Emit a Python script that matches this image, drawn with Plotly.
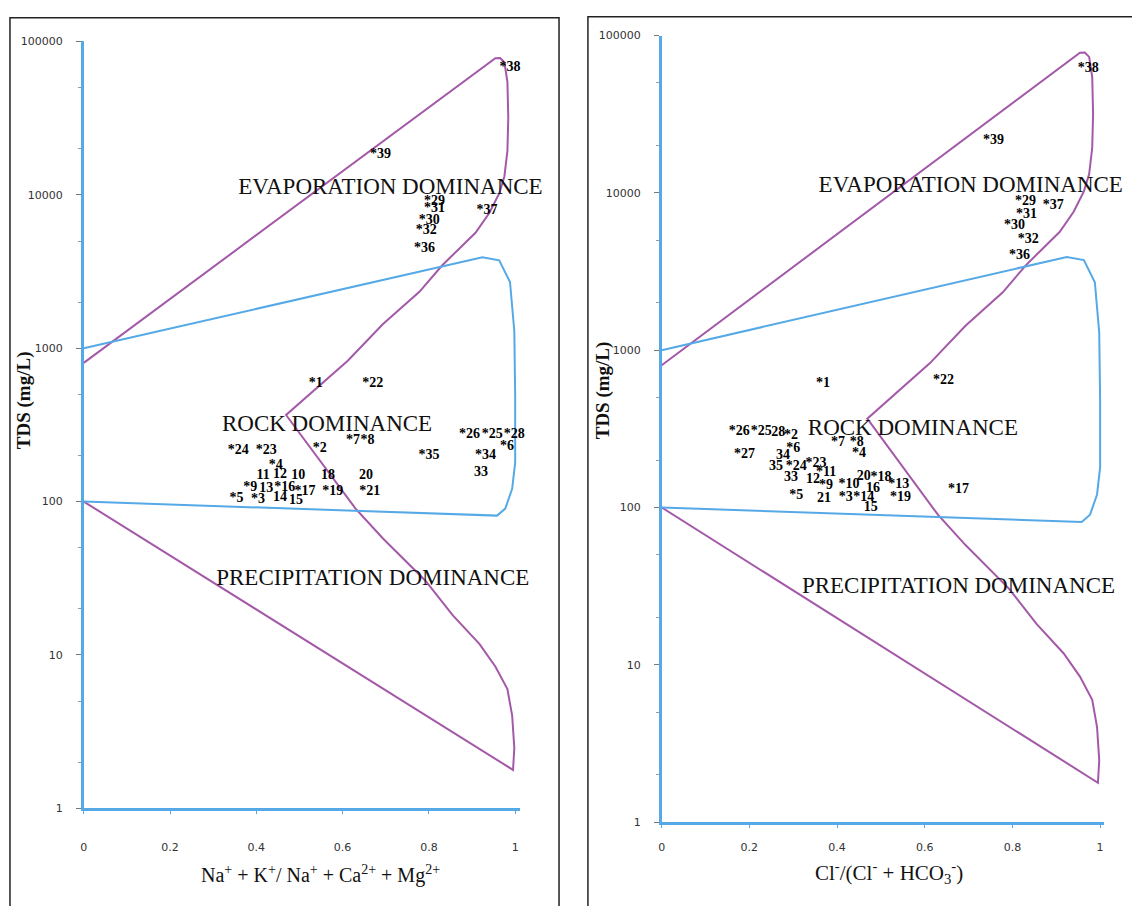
import plotly.graph_objects as go

# ---------------- data ----------------
# Gibbs boundary curves (ratio, TDS mg/L)
purple_ratio = [0.0, 0.954, 0.965, 0.975, 0.982, 0.984, 0.982, 0.975, 0.963, 0.94, 0.908, 0.878,
                0.831, 0.778, 0.693, 0.612, 0.469, 0.630, 0.693, 0.792, 0.855, 0.917, 0.954,
                0.982, 0.993, 0.998, 0.995, 0.0]
purple_tds = [803, 77800, 78000, 73200, 54500, 32000, 19350, 13180, 10230, 7620, 5660, 4680,
              3475, 2333, 1431, 828, 367, 90, 57.7, 30.5, 18.2, 11.8, 8.42,
              6.0, 4.02, 2.47, 1.78, 100]
blue_ratio = [0.0, 0.924, 0.963, 0.988, 0.998, 1.0, 1.0, 0.993, 0.977, 0.958, 0.0]
blue_tds = [1000, 3916, 3742, 2704, 1291, 479, 180, 121, 90, 81, 100]

# left panel: Na+ + K+ / (Na+ + Ca2+ + Mg2+)
left_labels = ["*1", "*22", "*26", "*25", "*28", "*6", "*27", "*34", "*35", "33", "*24", "*23", "*2",
               "*7", "*8", "*4", "11", "12", "10", "18", "20", "*9", "13", "*16", "*17", "*19", "*21",
               "*5", "*3", "14", "15", "*38", "*39", "*29", "*31", "*30", "*32", "*36", "*37"]
left_ratio = [0.538, 0.670, 0.894, 0.947, 0.998, 0.981, 1.011, 0.931, 0.800, 0.921, 0.358, 0.423, 0.547,
              0.624, 0.658, 0.445, 0.416, 0.455, 0.497, 0.566, 0.654, 0.386, 0.423, 0.466, 0.513, 0.577, 0.663,
              0.354, 0.404, 0.455, 0.492, 0.988, 0.688, 0.813, 0.813, 0.801, 0.794, 0.790, 0.935]
left_tds = [589, 589, 273, 273, 273, 228, 200, 200, 200, 155, 215, 215, 222,
            252, 252, 172, 147, 150, 147, 147, 147, 124, 121, 124, 116, 116, 117,
            104, 103, 107, 101, 68000, 18200, 9100, 8200, 6770, 5840, 4470, 7950]

# right panel: Cl- / (Cl- + HCO3-)
right_labels = ["*26", "*25", "28", "*2", "*6", "*7", "*8", "*4", "*27", "34", "35", "*24", "*23", "33",
                "*11", "12", "*9", "*10", "20", "*18", "16", "*13", "*17", "*5", "21", "*3", "*14", "15",
                "*19", "*1", "*22", "*38", "*39", "*29", "*37", "*31", "*30", "*32", "*36"]
right_ratio = [0.177, 0.227, 0.266, 0.295, 0.300, 0.402, 0.445, 0.450, 0.189, 0.277, 0.261, 0.307, 0.352, 0.295,
               0.375, 0.345, 0.375, 0.427, 0.461, 0.500, 0.482, 0.541, 0.677, 0.307, 0.370, 0.420, 0.461, 0.477,
               0.545, 0.368, 0.643, 0.973, 0.757, 0.830, 0.893, 0.832, 0.805, 0.836, 0.816]
right_tds = [303, 303, 300, 285, 237, 258, 258, 220, 217, 214, 183, 183, 191, 156,
             168, 151, 137, 139, 158, 156, 133, 139, 131, 119, 114, 116, 116, 100,
             116, 614, 641, 62100, 21400, 8860, 8360, 7240, 6170, 5050, 4010]

# region labels
region_names = ["EVAPORATION DOMINANCE", "ROCK DOMINANCE", "PRECIPITATION DOMINANCE"]
region_ratio_left = [0.711, 0.564, 0.670]
region_ratio_right = [0.705, 0.573, 0.677]
region_tds = [11000, 316, 31]

tds_ticks = [1, 10, 100, 1000, 10000, 100000]
ratio_ticks = [0, 0.2, 0.4, 0.6, 0.8, 1]

# ---------------- styling ----------------
PURPLE = "#a459a8"
BLUE = "#55a9e6"
SERIF = "Liberation Serif"
W, H = 1132, 906

fig = go.Figure()

for xa, ya, rx, labels, lx, ly in [("x", "y", region_ratio_left, left_labels, left_ratio, left_tds),
                                    ("x2", "y2", region_ratio_right, right_labels, right_ratio, right_tds)]:
    fig.add_trace(go.Scatter(x=purple_ratio, y=purple_tds, mode="lines", xaxis=xa, yaxis=ya,
                             line=dict(color=PURPLE, width=2), showlegend=False, hoverinfo="skip"))
    fig.add_trace(go.Scatter(x=blue_ratio, y=blue_tds, mode="lines", xaxis=xa, yaxis=ya,
                             line=dict(color=BLUE, width=2), showlegend=False, hoverinfo="skip"))
    fig.add_trace(go.Scatter(x=rx, y=region_tds, text=region_names, mode="text", xaxis=xa, yaxis=ya,
                             textfont=dict(family=SERIF, size=23, color="#111"), cliponaxis=False,
                             showlegend=False, hoverinfo="skip"))
    fig.add_trace(go.Scatter(x=lx, y=ly, text=labels, mode="text", xaxis=xa, yaxis=ya,
                             textfont=dict(family=SERIF, size=14, color="#000", weight="bold"),
                             cliponaxis=False, showlegend=False, hoverinfo="skip"))

def xaxis(domain, anchor, standoff):
    return dict(domain=domain, anchor=anchor, range=[0, 1.01], showgrid=False, zeroline=False,
                showline=True, linecolor=BLUE, linewidth=2.5, ticks="outside", ticklen=3,
                tickcolor=BLUE, tickvals=ratio_ticks, ticktext=[str(t) if t not in (0, 1) else str(int(t)) for t in ratio_ticks],
                tickfont=dict(family="DejaVu Sans", size=11, color="#333"), ticklabelstandoff=standoff)

def yaxis(domain, anchor):
    return dict(domain=domain, anchor=anchor, type="log", range=[0, 5], showgrid=False, zeroline=False,
                showline=True, linecolor=BLUE, linewidth=2.5, ticks="outside", ticklen=5, tickcolor="#777",
                tickvals=tds_ticks, ticktext=[str(t) for t in tds_ticks],
                minor=dict(ticks="outside", ticklen=3, tickcolor="#999", showgrid=False),
                tickfont=dict(family="DejaVu Sans", size=11, color="#333"), ticklabelstandoff=11)

fig.update_layout(
    width=W, height=H, margin=dict(l=0, r=0, t=0, b=0),
    paper_bgcolor="white", plot_bgcolor="white", showlegend=False,
    xaxis=xaxis([80 / W, (80 + 1.01 * 433) / W], "y", 24),
    yaxis=yaxis([(H - 814) / H, (H - 36) / H], "x"),
    xaxis2=xaxis([660 / W, (660 + 1.01 * 440) / W], "y2", 10),
    yaxis2=yaxis([(H - 828) / H, (H - 30) / H], "x2"),
    shapes=[
        dict(type="rect", xref="paper", yref="paper", x0=6 / W, x1=557 / W, y0=-0.02, y1=(H - 12) / H,
             line=dict(color="#222", width=1.5)),
        dict(type="rect", xref="paper", yref="paper", x0=586 / W, x1=1.02, y0=-0.02, y1=(H - 11) / H,
             line=dict(color="#222", width=1.5)),
    ],
    annotations=[
        dict(xref="paper", yref="paper", x=318 / W, y=(H - 881) / H, showarrow=False,
             xanchor="center", yanchor="middle",
             text="Na<sup>+</sup> + K<sup>+</sup>/ Na<sup>+</sup> + Ca<sup>2+</sup> + Mg<sup>2+</sup>",
             font=dict(family=SERIF, size=20, color="#111")),
        dict(xref="paper", yref="paper", x=888 / W, y=(H - 879) / H, showarrow=False,
             xanchor="center", yanchor="middle",
             text="Cl<sup>-</sup>/(Cl<sup>-</sup> + HCO<sub>3</sub><sup>-</sup>)",
             font=dict(family=SERIF, size=21, color="#111")),
        dict(xref="paper", yref="paper", x=20 / W, y=(H - 400) / H, showarrow=False, textangle=-90,
             xanchor="center", yanchor="middle",
             text="TDS (mg/L)", font=dict(family=SERIF, size=19, color="#111", weight="bold")),
        dict(xref="paper", yref="paper", x=602 / W, y=(H - 390) / H, showarrow=False, textangle=-90,
             xanchor="center", yanchor="middle",
             text="TDS (mg/L)", font=dict(family=SERIF, size=19, color="#111", weight="bold")),
    ],
)

fig.write_html("out.html")
